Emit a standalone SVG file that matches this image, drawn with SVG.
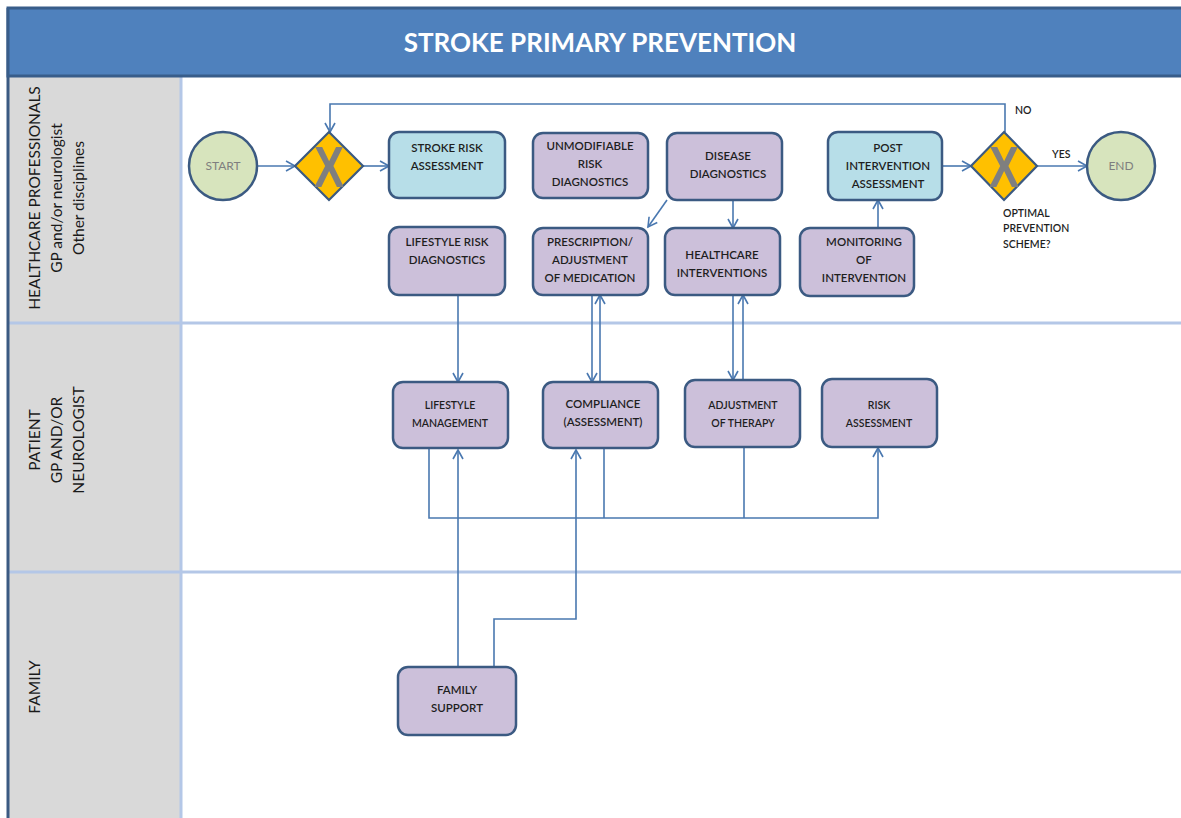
<svg xmlns="http://www.w3.org/2000/svg" width="1181" height="818" viewBox="0 0 1181 818">
<style>
.lbl{font-family:Lato,"Open Sans","Liberation Sans",sans-serif;font-size:15.5px;fill:#1a1a1a}
.nt{font-family:Lato,"Open Sans","Liberation Sans",sans-serif;font-size:11.5px;fill:#1e1e1e;text-anchor:middle;font-weight:600}
.box{stroke:#3b5a82;stroke-width:2.5}
.pu{fill:#ccc0da}
.bl{fill:#b7dee8}
.ev{fill:#d7e4bd;stroke:#3b5a82;stroke-width:2.5}
.gw{fill:#ffc000;stroke:#3b5a82;stroke-width:2.2}
.gx{font-family:"Liberation Sans",Arial,sans-serif;font-size:58px;font-weight:700;fill:#7f7f7f;text-anchor:middle}
.et{font-family:Lato,"Liberation Sans",sans-serif;font-size:12px;fill:#7f7f7f;text-anchor:middle}
.cn{fill:none;stroke:#4a78b0;stroke-width:1.6}
.sm{font-family:Lato,"Open Sans","Liberation Sans",sans-serif;font-size:10.5px;fill:#1e1e1e;font-weight:600}
.sep{stroke:#b4c7e7;stroke-width:3}
</style>
<defs>
<marker id="ar" markerWidth="12" markerHeight="12" refX="10" refY="6" orient="auto" markerUnits="userSpaceOnUse">
<path d="M1,1 L10,6 L1,11" fill="none" stroke="#4a78b0" stroke-width="1.6"/>
</marker>
</defs>
<rect x="0" y="0" width="1181" height="818" fill="#ffffff"/>
<g id="lanes">
<rect x="8" y="76" width="173" height="742" fill="#d9d9d9"/>
<line x1="181" y1="76" x2="181" y2="818" class="sep"/>
<line x1="8" y1="323" x2="1181" y2="323" class="sep"/>
<line x1="8" y1="572" x2="1181" y2="572" class="sep"/>
<line x1="8" y1="8" x2="8" y2="818" stroke="#3b5a82" stroke-width="3"/>
<rect x="8" y="8" width="1180" height="68" fill="#4f81bd" stroke="#385d8a" stroke-width="3"/>
<text x="600" y="52" text-anchor="middle" font-family="Lato,'Open Sans','Liberation Sans',sans-serif" font-size="26" font-weight="700" fill="#ffffff">STROKE PRIMARY PREVENTION</text>
<text class="lbl" text-anchor="middle" transform="translate(40,198) rotate(-90)">HEALTHCARE PROFESSIONALS</text>
<text class="lbl" text-anchor="middle" transform="translate(62,198) rotate(-90)">GP and/or neurologist</text>
<text class="lbl" text-anchor="middle" transform="translate(84,198) rotate(-90)">Other disciplines</text>
<text class="lbl" text-anchor="middle" transform="translate(40,440) rotate(-90)">PATIENT</text>
<text class="lbl" text-anchor="middle" transform="translate(62,440) rotate(-90)">GP AND/OR</text>
<text class="lbl" text-anchor="middle" transform="translate(84,440) rotate(-90)">NEUROLOGIST</text>
<text class="lbl" text-anchor="middle" transform="translate(40,687) rotate(-90)">FAMILY</text>
</g>
<g id="connectors">
<path class="cn" d="M257,166 H295" marker-end="url(#ar)"/>
<path class="cn" d="M363,166 H389" marker-end="url(#ar)"/>
<path class="cn" d="M1005,132 V104 H330 V132" marker-end="url(#ar)"/>
<path class="cn" d="M942,166 H971" marker-end="url(#ar)"/>
<path class="cn" d="M1037,166 H1087" marker-end="url(#ar)"/>
<path class="cn" d="M667,200 L648,227" marker-end="url(#ar)"/>
<path class="cn" d="M733,200 V228" marker-end="url(#ar)"/>
<path class="cn" d="M878,228 V200" marker-end="url(#ar)"/>
<path class="cn" d="M458,295 V382" marker-end="url(#ar)"/>
<path class="cn" d="M592,295 V382" marker-end="url(#ar)"/>
<path class="cn" d="M600,382 V295" marker-end="url(#ar)"/>
<path class="cn" d="M733,295 V380" marker-end="url(#ar)"/>
<path class="cn" d="M743,380 V295" marker-end="url(#ar)"/>
<path class="cn" d="M429,448 V518 H878 V448" marker-end="url(#ar)"/>
<path class="cn" d="M604,448 V518"/>
<path class="cn" d="M744,447 V518"/>
<path class="cn" d="M458,667 V450" marker-end="url(#ar)"/>
<path class="cn" d="M494,667 V619 H576 V450" marker-end="url(#ar)"/>
<text class="sm" x="1015" y="114">NO</text>
<text class="sm" x="1052" y="158">YES</text>
<text class="sm" x="1003" y="217">OPTIMAL</text>
<text class="sm" x="1003" y="232">PREVENTION</text>
<text class="sm" x="1003" y="248">SCHEME?</text>
</g>
<g id="start"><circle class="ev" cx="223" cy="166" r="34"/><text class="et" x="223" y="170">START</text></g>
<g id="gw1"><path class="gw" d="M329,132 L363,166 L329,200 L295,166 Z"/><text class="gx" transform="translate(329,187) scale(0.78,1)">X</text></g>
<g id="stroke-risk"><rect class="box bl" x="389" y="132" width="116" height="66" rx="10"/><text class="nt" x="447" y="152">STROKE RISK</text><text class="nt" x="447" y="170">ASSESSMENT</text></g>
<g id="unmod"><rect class="box pu" x="533" y="133" width="115" height="65" rx="10"/><text class="nt" x="590" y="150">UNMODIFIABLE</text><text class="nt" x="590" y="168">RISK</text><text class="nt" x="590" y="186">DIAGNOSTICS</text></g>
<g id="disease"><rect class="box pu" x="667" y="133" width="115" height="67" rx="10"/><text class="nt" x="728" y="160">DISEASE</text><text class="nt" x="728" y="178">DIAGNOSTICS</text></g>
<g id="post"><rect class="box bl" x="828" y="132" width="114" height="68" rx="10"/><text class="nt" x="888" y="152">POST</text><text class="nt" x="888" y="170">INTERVENTION</text><text class="nt" x="888" y="188">ASSESSMENT</text></g>
<g id="gw2"><path class="gw" d="M1004,132 L1037,166 L1004,200 L971,166 Z"/><text class="gx" transform="translate(1004,187) scale(0.78,1)">X</text></g>
<g id="end"><circle class="ev" cx="1121" cy="166" r="34"/><text class="et" x="1121" y="170">END</text></g>
<g id="lifestyle-risk"><rect class="box pu" x="389" y="227" width="116" height="68" rx="10"/><text class="nt" x="447" y="246">LIFESTYLE RISK</text><text class="nt" x="447" y="264">DIAGNOSTICS</text></g>
<g id="prescription"><rect class="box pu" x="533" y="228" width="115" height="67" rx="10"/><text class="nt" x="590" y="246">PRESCRIPTION/</text><text class="nt" x="590" y="264">ADJUSTMENT</text><text class="nt" x="590" y="282">OF MEDICATION</text></g>
<g id="healthcare"><rect class="box pu" x="665" y="228" width="115" height="67" rx="10"/><text class="nt" x="722" y="259">HEALTHCARE</text><text class="nt" x="722" y="277">INTERVENTIONS</text></g>
<g id="monitoring"><rect class="box pu" x="800" y="228" width="114" height="68" rx="10"/><text class="nt" x="864" y="246">MONITORING</text><text class="nt" x="864" y="264">OF</text><text class="nt" x="864" y="282">INTERVENTION</text></g>
<g id="lifestyle-mgmt"><rect class="box pu" x="393" y="382" width="115" height="66" rx="10"/><text class="nt" x="450" y="409" style="font-size:10.5px">LIFESTYLE</text><text class="nt" x="450" y="427" style="font-size:10.5px">MANAGEMENT</text></g>
<g id="compliance"><rect class="box pu" x="543" y="382" width="115" height="66" rx="10"/><text class="nt" x="603" y="408">COMPLIANCE</text><text class="nt" x="603" y="426">(ASSESSMENT)</text></g>
<g id="adjustment"><rect class="box pu" x="685" y="380" width="115" height="67" rx="10"/><text class="nt" x="743" y="409" style="font-size:10.5px">ADJUSTMENT</text><text class="nt" x="743" y="427" style="font-size:10.5px">OF THERAPY</text></g>
<g id="risk-assessment"><rect class="box pu" x="822" y="379" width="115" height="68" rx="10"/><text class="nt" x="879" y="409" style="font-size:10.5px">RISK</text><text class="nt" x="879" y="427" style="font-size:10.5px">ASSESSMENT</text></g>
<g id="family-support"><rect class="box pu" x="398" y="667" width="118" height="68" rx="10"/><text class="nt" x="457" y="694">FAMILY</text><text class="nt" x="457" y="712">SUPPORT</text></g>
</svg>
